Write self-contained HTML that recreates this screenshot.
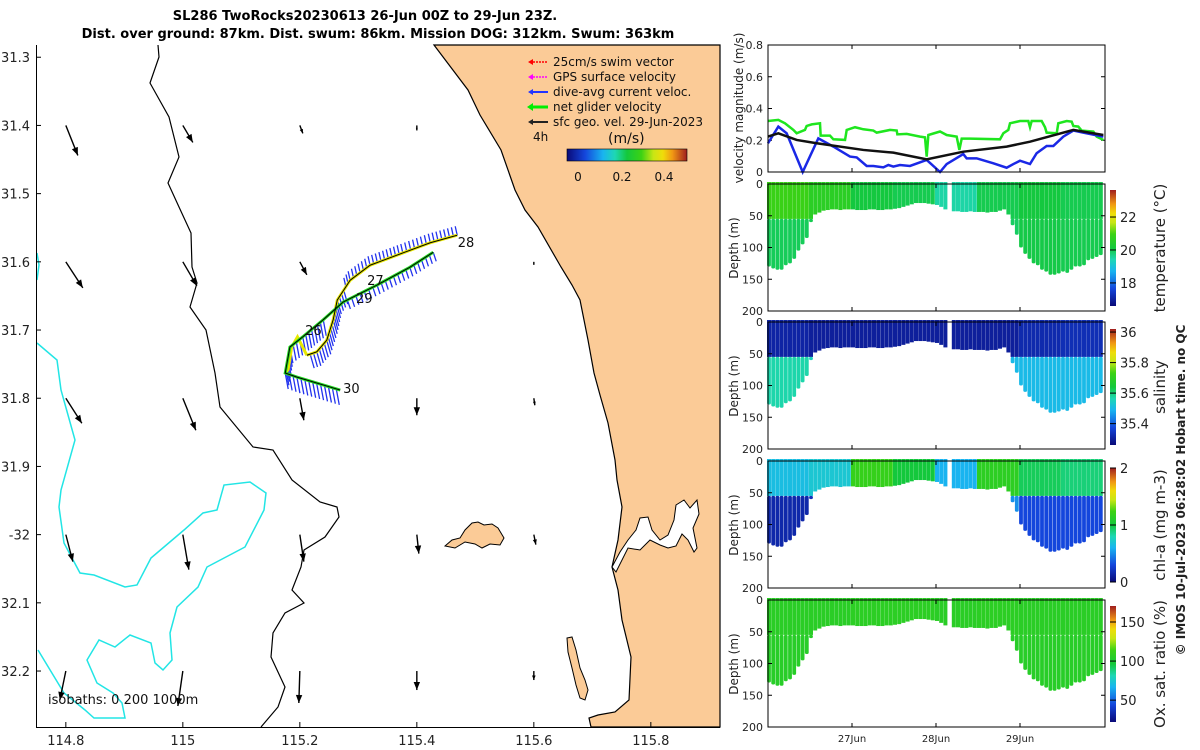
<!DOCTYPE html>
<html><head><meta charset="utf-8"><style>
body{margin:0;background:#fff}
svg{display:block;font-family:"DejaVu Sans","Liberation Sans",sans-serif}
</style></head><body>
<svg id="fig" width="1200" height="750" viewBox="0 0 1200 750">
<defs>
<linearGradient id="jet" x1="0" y1="1" x2="0" y2="0">
<stop offset="0" stop-color="#0a0a78"/><stop offset="0.15" stop-color="#1446dc"/><stop offset="0.3" stop-color="#19b4f0"/><stop offset="0.4" stop-color="#1ed7b4"/><stop offset="0.5" stop-color="#14c83c"/><stop offset="0.62" stop-color="#3cd214"/><stop offset="0.72" stop-color="#c8e614"/><stop offset="0.8" stop-color="#f0dc0a"/><stop offset="0.88" stop-color="#f09614"/><stop offset="1" stop-color="#a01e1e"/>
</linearGradient>
<linearGradient id="jeth" x1="0" y1="0" x2="1" y2="0">
<stop offset="0" stop-color="#0a0a78"/><stop offset="0.15" stop-color="#1446dc"/><stop offset="0.3" stop-color="#19b4f0"/><stop offset="0.4" stop-color="#1ed7b4"/><stop offset="0.5" stop-color="#14c83c"/><stop offset="0.62" stop-color="#3cd214"/><stop offset="0.72" stop-color="#c8e614"/><stop offset="0.8" stop-color="#f0dc0a"/><stop offset="0.88" stop-color="#f09614"/><stop offset="1" stop-color="#a01e1e"/>
</linearGradient>
</defs>
<g font-weight="bold" font-size="13" text-anchor="middle">
<text x="365" y="20">SL286 TwoRocks20230613 26-Jun 00Z to 29-Jun 23Z.</text>
<text x="378" y="38">Dist. over ground: 87km. Dist. swum: 86km. Mission DOG: 312km. Swum: 363km</text>
</g>
<g id="map">
<path fill="#fbcb97" stroke="#000" stroke-width="1.2" d="M434,45 L468,90 L480,115 L501,150 L515,190 L525,210 L538,227 L561,267 L572,285 L580,300 L588,340 L594,373 L600,395 L608,423 L615,460 L617,480 L622,507 L618,540 L612,567 L618,590 L622,620 L631,657 L629,700 L615,712 L598,715 L589,718 L591,727 L720,727 L720,45 Z"/>
<path fill="#fff" stroke="#000" stroke-width="1" d="M612,567 L620,552 L628,540 L636,530 L640,518 L648,517 L652,530 L660,540 L668,535 L674,520 L676,505 L684,500 L690,508 L697,500 L699,514 L693,528 L697,548 L694,552 L688,540 L682,534 L676,546 L668,548 L660,545 L650,540 L640,550 L628,548 L616,572 Z"/>
<path fill="#fbcb97" stroke="#000" stroke-width="1" d="M445,546 L452,540 L460,538 L465,530 L472,523 L478,522 L484,525 L492,524 L498,528 L504,538 L500,545 L490,544 L482,548 L475,544 L465,542 L455,548 Z"/>
<path fill="#fbcb97" stroke="#000" stroke-width="1" d="M567,638 L572,637 L576,650 L580,668 L585,680 L588,690 L585,700 L580,698 L576,685 L572,668 L568,652 Z"/>
<path fill="none" stroke="#000" stroke-width="1.2" d="M158,45 L159,57 L150,83 L169,117 L179,157 L168,183 L179,207 L191,233 L192,267 L197,283 L190,307 L206,330 L215,373 L220,407 L253,447 L273,450 L292,480 L320,502 L337,507 L339,517 L325,537 L304,550 L301,567 L292,590 L304,603 L285,613 L273,633 L271,657 L285,687 L278,707 L261,727"/>
<path fill="none" stroke="#22e5e5" stroke-width="1.5" d="M37,343 L57,360 L61,390 L75,440 L61,490 L59,507 L64,543 L80,573 L94,575 L125,587 L137,585 L151,558 L184,530 L203,513 L217,510 L224,485 L250,482 L266,493 L264,510 L245,547 L207,567 L198,587 L177,607 L170,633 L172,660 L163,670 L155,663 L151,643 L130,635 L115,647 L99,640 L87,660 L97,683 L113,693 L122,703 L125,718 L94,718 L85,710 L64,693 L38,650"/>
<path fill="none" stroke="#22e5e5" stroke-width="1.5" d="M37,253 L39,265 L37,280"/>
<line x1="36.5" y1="45" x2="36.5" y2="727" stroke="#000"/>
<line x1="36" y1="727.5" x2="720" y2="727.5" stroke="#000"/>
<g id="mapTicks" font-size="13" fill="#222"></g>
<g id="currents"></g>
<g id="track"></g>
<g font-size="12" fill="#111">
<line x1="530" y1="62" x2="548" y2="62" stroke="#f00" stroke-width="1.5" stroke-dasharray="2,1"/><path d="M528,62 l5,-3 v6z" fill="#f00"/>
<text x="553" y="66">25cm/s swim vector</text>
<line x1="530" y1="77" x2="548" y2="77" stroke="#f0f" stroke-width="1.5" stroke-dasharray="2,1"/><path d="M528,77 l5,-3 v6z" fill="#f0f"/>
<text x="553" y="81">GPS surface velocity</text>
<line x1="530" y1="92" x2="548" y2="92" stroke="#23f" stroke-width="2"/><path d="M528,92 l5,-3 v6z" fill="#23f"/>
<text x="553" y="96">dive-avg current veloc.</text>
<line x1="530" y1="107" x2="548" y2="107" stroke="#0e0" stroke-width="3"/><path d="M527,107 l6,-4 v8z" fill="#0e0"/>
<text x="553" y="111">net glider velocity</text>
<line x1="530" y1="122" x2="548" y2="122" stroke="#222" stroke-width="2"/><path d="M528,122 l5,-3 v6z" fill="#222"/>
<text x="553" y="126">sfc geo. vel. 29-Jun-2023</text>
<text x="533" y="141">4h</text>
<text x="608" y="143" font-size="14">(m/s)</text>
<rect x="567" y="149" width="120" height="12" fill="url(#jeth)" stroke="#000" stroke-width="0.6"/>
<text x="578" y="181" text-anchor="middle">0</text><text x="622" y="181" text-anchor="middle">0.2</text><text x="664" y="181" text-anchor="middle">0.4</text>
</g>
<text x="48" y="704" font-size="13" fill="#111">isobaths: 0   200  1000m</text>
</g>
<g id="right" font-size="11" fill="#222"></g>
<text transform="translate(743,108) rotate(-90)" font-size="12" text-anchor="middle" fill="#222">velocity magnitude (m/s)</text>
<text transform="translate(1185,490) rotate(-90)" font-size="12" font-weight="bold" text-anchor="middle" fill="#222">© IMOS 10-Jul-2023 06:28:02 Hobart time. no QC</text>
</svg>
<script>
// ===== chart data =====
const velGreenT=[0,0.123,0.202,0.302,0.341,0.44,0.46,0.52,0.619,0.627,0.738,0.778,0.917,0.937,1.036,1.135,1.254,1.294,1.452,1.532,1.54,1.651,1.81,1.869,1.889,1.909,2.048,2.127,2.246,2.278,2.306,2.405,2.762,2.802,2.861,2.881,3.0,3.099,3.119,3.139,3.258,3.298,3.317,3.437,3.456,3.556,3.615,3.635,3.694,3.734,3.873,3.913,3.992];
const velGreenV=[0.321,0.328,0.307,0.265,0.244,0.265,0.29,0.3,0.307,0.229,0.229,0.206,0.202,0.265,0.282,0.269,0.261,0.248,0.265,0.261,0.237,0.24,0.223,0.218,0.097,0.233,0.255,0.233,0.223,0.139,0.21,0.21,0.206,0.244,0.265,0.307,0.321,0.321,0.282,0.321,0.321,0.282,0.248,0.244,0.307,0.321,0.317,0.29,0.286,0.261,0.255,0.223,0.202];
const velBlueT=[0,0.123,0.222,0.413,0.599,0.778,0.976,1.056,1.175,1.254,1.373,1.433,1.492,1.571,1.69,1.889,2.048,2.127,2.325,2.365,2.484,2.683,2.841,2.921,3.0,3.119,3.198,3.317,3.397,3.516,3.635,3.754,3.992];
const velBlueV=[0.181,0.286,0.244,0.0,0.212,0.16,0.097,0.092,0.038,0.038,0.029,0.044,0.034,0.044,0.038,0.076,0.0,0.05,0.113,0.086,0.086,0.055,0.027,0.05,0.071,0.05,0.118,0.164,0.164,0.223,0.261,0.248,0.223];
const velBlackT=[0,0.123,0.341,0.579,1.135,1.492,1.889,2.325,2.841,3.119,3.635,3.992];
const velBlackV=[0.223,0.244,0.202,0.181,0.139,0.122,0.08,0.128,0.16,0.191,0.265,0.233];
const velTicks=[0,0.2,0.4,0.6,0.8];
const depthTicks=[0,50,100,150,200];
const dayTicks=[1,2,3];
const dayLabels=["27Jun","28Jun","29Jun"];
// profile max depth every 0.05 day (0 = no data)
const profDepth=[130,133,135,135,128,125,118,105,95,85,60,48,45,42,41,40,40,41,40,40,40,41,41,41,40,40,41,41,40,40,39,38,36,34,32,30,30,30,31,32,33,36,40,0,43,43,44,44,43,44,44,44,45,44,44,42,40,48,65,80,100,110,118,125,128,135,138,143,143,141,138,140,135,130,130,128,120,118,115,112];
const nodeT=[0,0.5,1,1.5,2,2.5,3,3.5];
const tempUpper=[20.9,20.6,20.1,20.0,19.5,20.0,20.1,20.0];
const tempLower=[19.95,20.0,19.9,19.9,19.9,19.9,20.05,20.0];
const salUpper=[35.31,35.3,35.3,35.3,35.3,35.3,35.32,35.33];
const salLower=[35.57,35.55,35.5,35.5,35.5,35.5,35.5,35.5];
const chlUpper=[0.65,0.7,1.2,1.0,0.6,1.15,0.95,0.9];
const chlLower=[0.15,0.2,0.5,0.5,0.4,0.5,0.3,0.3];
const oxUpper=[106,106,107,107,106,107,106,106];
const oxLower=[105,105,105,105,105,105,105,105];
// map data
const mapLonTicks=[114.8,115,115.2,115.4,115.6,115.8];
const mapLatTicks=[31.3,31.4,31.5,31.6,31.7,31.8,31.9,32.0,32.1,32.2];
const mapLatLabels=["31.3","31.4","31.5","31.6","31.7","31.8","31.9","-32","32.1","32.2"];
const curLon=[114.8,115,115.2,115.4,115.6];
const curLat=[31.4,31.6,31.8,32.0,32.2];
const curU=[[0.12,0.10,0.03,0,0],[0.17,0.14,0.07,0,0],[0.16,0.13,0.04,0,0.01],[0.07,0.06,0.04,0.02,0.02],[-0.06,-0.05,-0.01,0,0]];
const curV=[[-0.30,-0.17,-0.08,-0.05,0],[-0.26,-0.24,-0.13,0,-0.03],[-0.25,-0.32,-0.22,-0.17,-0.07],[-0.27,-0.35,-0.27,-0.19,-0.10],[-0.29,-0.35,-0.32,-0.19,-0.09]];
const outLon=[115.469,115.423,115.376,115.320,115.286,115.264,115.257,115.246,115.229,115.212];
const outLat=[31.561,31.572,31.587,31.605,31.627,31.656,31.685,31.715,31.732,31.737];
const retLon=[115.428,115.388,115.332,115.274,115.240,115.205,115.183,115.175,115.195,115.269];
const retLat=[31.586,31.608,31.634,31.659,31.685,31.710,31.725,31.763,31.769,31.788];
const zigLon=[115.212,115.196,115.186,115.180,115.175];
const zigLat=[31.737,31.710,31.725,31.758,31.763];
const dayMarks=["28","27","29","26","30"];
const dayMarkLon=[115.470,115.315,115.296,115.209,115.274];
const dayMarkLat=[31.578,31.634,31.660,31.707,31.792];

// ===== helpers =====
const NS="http://www.w3.org/2000/svg";
function mk(tag,attrs,parent){const e=document.createElementNS(NS,tag);for(const k in attrs)e.setAttribute(k,attrs[k]);parent.appendChild(e);return e;}
const jetStops=[[0,[10,10,120]],[0.15,[20,70,220]],[0.3,[25,180,240]],[0.4,[30,215,180]],[0.5,[20,200,60]],[0.62,[60,210,20]],[0.72,[200,230,20]],[0.8,[240,220,10]],[0.88,[240,150,20]],[1,[160,30,30]]];
function jet(f){f=Math.max(0,Math.min(1,f));for(let i=1;i<jetStops.length;i++){if(f<=jetStops[i][0]){const a=jetStops[i-1],b=jetStops[i];const r=(f-a[0])/(b[0]-a[0]);const c=a[1].map((v,j)=>Math.round(v+(b[1][j]-v)*r));return `rgb(${c})`;}}return "rgb(160,30,30)";}
const lonX=lon=>36+(lon-114.749)*585;
const latY=lat=>47+(lat-31.285)*682;
const tx=t=>768+t*84;
const vy=v=>172-v*158.75;

// ===== map ticks =====
const mt=document.getElementById('mapTicks');
mapLonTicks.forEach(l=>{const x=lonX(l);
 const tk=mk('line',{x1:x,y1:727,x2:x,y2:722,stroke:'#000'},mt);
 
 
 const t=mk('text',{x:x,y:745,'text-anchor':'middle'},mt);t.textContent=String(l);
 
 });
mapLatTicks.forEach((l,i)=>{const y=latY(l);
 const tk=mk('line',{x1:36,y1:y,x2:41,y2:y,stroke:'#000'},mt);
 
 
 const t=mk('text',{x:30,y:y+5,'text-anchor':'end'},mt);t.textContent=mapLatLabels[i];
 
 });

// ===== current arrows =====
const cg=document.getElementById('currents');
curLat.forEach((la,r)=>curLon.forEach((lo,c)=>{
 const u=curU[r][c],v=curV[r][c];if(Math.abs(u)+Math.abs(v)<0.01)return;
 const x0=lonX(lo),y0=latY(la),x1=x0+u*100,y1=y0-v*100;
 const g=mk('g',{},cg);
 
 
 mk('line',{x1:x0,y1:y0,x2:x1,y2:y1,stroke:'#000','stroke-width':1.4},g);
 const L=Math.hypot(x1-x0,y1-y0),ux=(x1-x0)/L,uy=(y1-y0)/L,h=Math.min(8,L*0.5),w=h*0.4;
 mk('path',{d:`M${x1},${y1} L${x1-ux*h-uy*w},${y1-uy*h+ux*w} L${x1-ux*h+uy*w},${y1-uy*h-ux*w}Z`,fill:'#000'},g);
}));

// ===== glider track =====
const tg=document.getElementById('track');
function pts(lo,la){return lo.map((l,i)=>lonX(l)+','+latY(la[i])).join(' ');}
function dense(lo,la,step){const out=[];for(let i=1;i<lo.length;i++){const x0=lonX(lo[i-1]),y0=latY(la[i-1]),x1=lonX(lo[i]),y1=latY(la[i]);const n=Math.max(1,Math.round(Math.hypot(x1-x0,y1-y0)/step));for(let k=0;k<n;k++)out.push([x0+(x1-x0)*k/n,y0+(y1-y0)*k/n]);}return out;}
function blue(x0,y0,x1,y1){const a=mk('line',{x1:x0,y1:y0,x2:x1,y2:y1,stroke:'#2233ee','stroke-width':1.3},tg);
 
 }
dense(outLon,outLat,4).forEach(p=>{if(p[0]>345)blue(p[0]-2,p[1]-9,p[0],p[1]);else blue(p[0],p[1],p[0]+4,p[1]+14);});
dense(retLon.slice(0,4),retLat.slice(0,4),4.5).forEach(p=>{blue(p[0],p[1],p[0]+3,p[1]+9);});
dense(retLon.slice(4),retLat.slice(4),4).forEach(p=>{blue(p[0],p[1],p[0]+3,p[1]+16);});
const y1=mk('polyline',{points:pts(outLon,outLat),fill:'none',stroke:'#e8e800','stroke-width':3},tg);


const yz=mk('polyline',{points:pts(zigLon,zigLat),fill:'none',stroke:'#e8e800','stroke-width':3},tg);


const g1=mk('polyline',{points:pts(retLon,retLat),fill:'none',stroke:'#22dd22','stroke-width':3},tg);


const b1=mk('polyline',{points:pts(outLon,outLat),fill:'none',stroke:'#000','stroke-width':1},tg);


const b2=mk('polyline',{points:pts(retLon,retLat),fill:'none',stroke:'#000','stroke-width':1},tg);


dayMarks.forEach((d,i)=>{const t=mk('text',{x:lonX(dayMarkLon[i]),y:latY(dayMarkLat[i]),'font-size':13,fill:'#111'},tg);t.textContent=d;
 
 });

// ===== right panels =====
const R=document.getElementById('right');
function frame(y0,y1,name){const r=mk('rect',{x:768,y:y0,width:337,height:y1-y0,fill:'none',stroke:'#000','stroke-width':1},R);
 
 }
function xTicks(y0,y1,labels){dayTicks.forEach((d,i)=>{const x=tx(d);mk('line',{x1:x,y1:y1,x2:x,y2:y1-4,stroke:'#000'},R);mk('line',{x1:x,y1:y0,x2:x,y2:y0+4,stroke:'#000'},R);
 if(labels){const t=mk('text',{x:x,y:y1+15,'text-anchor':'middle','font-size':10},R);t.textContent=dayLabels[i];
 
 }});}
velTicks.forEach(v=>{const y=vy(v);mk('line',{x1:768,y1:y,x2:772,y2:y,stroke:'#000'},R);mk('line',{x1:1105,y1:y,x2:1101,y2:y,stroke:'#000'},R);
 const t=mk('text',{x:763,y:y+4,'text-anchor':'end'},R);t.textContent=String(v);
 
 });
function series(T,V,color,w,name){const p=mk('polyline',{points:T.map((t,i)=>tx(t)+','+vy(V[i])).join(' '),fill:'none',stroke:color,'stroke-width':w},R);
 
 }
series(velGreenT,velGreenV,'#1ee61e',2.5,'net-glider-velocity-line');
series(velBlueT,velBlueV,'#1a28e6',2.5,'dive-avg-current-line');
series(velBlackT,velBlackV,'#111',2.5,'surface-geostrophic-line');
frame(45,172,'velocity-panel');
xTicks(45,172,false);

const panels=[
 {y0:184,up:tempUpper,lo:tempLower,min:16.6,max:23.64,ticks:[18,20,22],title:'temperature (°C)',name:'temperature'},
 {y0:322,up:salUpper,lo:salLower,min:35.26,max:36.02,ticks:[35.4,35.6,35.8,36],title:'salinity',name:'salinity'},
 {y0:461,up:chlUpper,lo:chlLower,min:0,max:2,ticks:[0,1,2],title:'chl-a (mg m-3)',name:'chlorophyll'},
 {y0:600,up:oxUpper,lo:oxLower,min:22,max:170.5,ticks:[50,100,150],title:'Ox. sat. ratio (%)',name:'oxygen'}];
const cbTop=[190,329,468,606],cbBot=[306,445,582,722];
panels.forEach((P,pi)=>{
 const dy=d=>P.y0+d*0.635;
 const g=mk('g',{},R);
 
 
 profDepth.forEach((d,i)=>{if(!d)return;const t=i*0.05;let n=0;nodeT.forEach((nt,k)=>{if(t>=nt)n=k;});
  const x=tx(t)+1;const ml=Math.min(55,d);
  const c1=jet((P.up[n]-P.min)/(P.max-P.min)),c2=jet((P.lo[n]-P.min)/(P.max-P.min));
  const r1=mk('rect',{x:x-2,y:dy(0)-2,width:4,height:dy(ml)-dy(0)+2,fill:c1},g);
  
  
  if(d>55){const r2=mk('rect',{x:x-1.9,y:dy(55),width:3.8,height:dy(d)-dy(55),fill:c2,rx:1.5},g);
  
  }
 });
 frame(P.y0,P.y0+127,P.name+'-panel');
 xTicks(P.y0,P.y0+127,pi===3);
 depthTicks.forEach(dd=>{const y=dy(dd);mk('line',{x1:768,y1:y,x2:772,y2:y,stroke:'#000'},R);mk('line',{x1:1105,y1:y,x2:1101,y2:y,stroke:'#000'},R);
  const t=mk('text',{x:763,y:y+4,'text-anchor':'end'},R);t.textContent=String(dd);
  
  });
 const yl=mk('text',{transform:`translate(738,${P.y0+64}) rotate(-90)`,'text-anchor':'middle','font-size':12},R);yl.textContent='Depth (m)';
 
 
 const ct=cbTop[pi],cb=cbBot[pi];
 const cr=mk('rect',{x:1110,y:ct,width:6,height:cb-ct,fill:'url(#jet)'},R);
 
 
 P.ticks.forEach(v=>{const f=(v-P.min)/(P.max-P.min);const y=cb-f*(cb-ct);mk('line',{x1:1110,y1:y,x2:1116,y2:y,stroke:'#000'},R);
  const t=mk('text',{x:1120,y:y+5,'font-size':13},R);t.textContent=String(v);
  
  });
 const ctl=mk('text',{transform:`translate(1165,${(ct+cb)/2}) rotate(-90)`,'text-anchor':'middle','font-size':15},R);ctl.textContent=P.title;
 
 
});
</script>
</body></html>
